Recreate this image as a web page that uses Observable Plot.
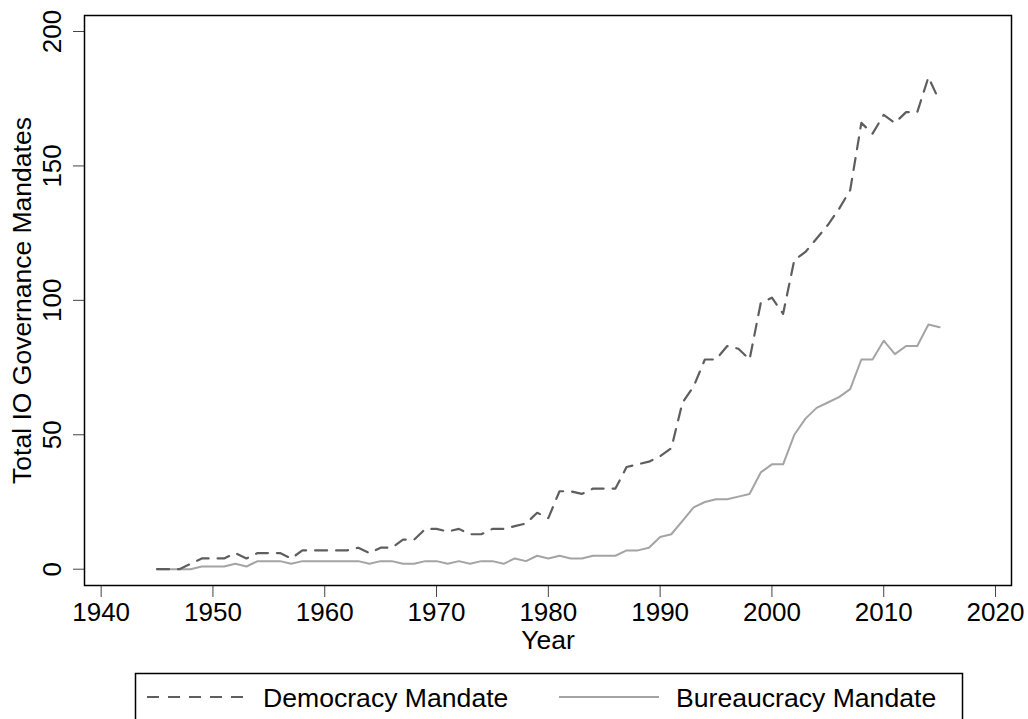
<!DOCTYPE html>
<html>
<head>
<meta charset="utf-8">
<script src="https://cdn.jsdelivr.net/npm/d3@7"></script>
<script src="https://cdn.jsdelivr.net/npm/@observablehq/plot@0.6"></script>
<style>
  html, body { margin: 0; padding: 0; background: #fff; overflow: hidden; }
  body { width: 1028px; height: 719px; position: relative; font-family: Arial, "Liberation Sans", sans-serif; }
  #chart { position: absolute; left: 0; top: 0; }
  #legend { position: absolute; left: 0; top: 0; }
</style>
</head>
<body>
<div id="chart"></div>
<div id="legend"></div>
<script>
const years = d3.range(1945, 2016);
const democracy = [
  0, 0, 0, 2, 4, 4, 4, 6, 4, 6,          // 1945-1954
  6, 6, 4, 7, 7, 7, 7, 7, 8, 6,          // 1955-1964
  8, 8, 11, 11, 15, 15, 14, 15, 13, 13,  // 1965-1974
  15, 15, 16, 17, 21, 19, 29, 29, 28, 30,// 1975-1984
  30, 30, 38, 39, 40, 42, 45, 62, 68, 78,// 1985-1994
  78, 83, 82, 78, 99, 101, 95, 115, 118, 123, // 1995-2004
  128, 134, 141, 166, 162, 169, 166, 170, 170, 183, // 2005-2014
  174                                      // 2015
];
const bureaucracy = [
  0, 0, 0, 0, 1, 1, 1, 2, 1, 3,          // 1945-1954
  3, 3, 2, 3, 3, 3, 3, 3, 3, 2,          // 1955-1964
  3, 3, 2, 2, 3, 3, 2, 3, 2, 3,          // 1965-1974
  3, 2, 4, 3, 5, 4, 5, 4, 4, 5,          // 1975-1984
  5, 5, 7, 7, 8, 12, 13, 18, 23, 25,     // 1985-1994
  26, 26, 27, 28, 36, 39, 39, 50, 56, 60,// 1995-2004
  62, 64, 67, 78, 78, 85, 80, 83, 83, 91,// 2005-2014
  90                                     // 2015
];
const seriesNames = ["Democracy Mandate", "Bureaucracy Mandate"];
const xTicks = [1940, 1950, 1960, 1970, 1980, 1990, 2000, 2010, 2020];
const yTicks = [0, 50, 100, 150, 200];
const xTitle = "Year";
const yTitle = "Total IO Governance Mandates";

const demColor = "#5e5e5e";
const burColor = "#a4a4a4";
const dash = "12,9";
const font = 'Arial, "Liberation Sans", sans-serif';

const demData = years.map((y, i) => ({year: y, value: democracy[i]}));
const burData = years.map((y, i) => ({year: y, value: bureaucracy[i]}));

const chart = Plot.plot({
  width: 1028,
  height: 660,
  marginLeft: 84,
  marginRight: 17,
  marginTop: 15,
  marginBottom: 75,
  style: {fontFamily: font, fontSize: "26px", color: "#000", background: "#fff"},
  x: {domain: [1938.51, 2021.43]},
  y: {domain: [-6.06, 205.95]},
  marks: [
    Plot.axisX({ticks: xTicks, tickSize: 12, tickPadding: 5, tickFormat: d => String(d), fontSize: 26, label: null, stroke: "#444"}),
    Plot.axisY({ticks: yTicks, tickSize: 11, tickFormat: () => "", label: null, stroke: "#444"}),
    Plot.text(yTicks, {y: d => d, text: d => String(d), frameAnchor: "left", dx: -32, rotate: -90, textAnchor: "middle", lineAnchor: "middle", fontSize: 26, fill: "#000"}),
    Plot.text([xTitle], {frameAnchor: "bottom", dy: 55, text: d => d, textAnchor: "middle", lineAnchor: "middle", fontSize: 26.5, fill: "#000"}),
    Plot.text([yTitle], {frameAnchor: "left", dx: -62, rotate: -90, text: d => d, textAnchor: "middle", lineAnchor: "middle", fontSize: 26.5, fill: "#000"}),
    Plot.line(burData, {x: "year", y: "value", stroke: burColor, strokeWidth: 2}),
    Plot.line(demData, {x: "year", y: "value", stroke: demColor, strokeWidth: 2.2, strokeDasharray: dash}),
    Plot.frame({stroke: "#000", strokeWidth: 1.5})
  ]
});
document.getElementById("chart").appendChild(chart);

// Legend below the plot SVG
const ns = "http://www.w3.org/2000/svg";
const leg = document.createElementNS(ns, "svg");
leg.setAttribute("width", 1028);
leg.setAttribute("height", 719);
leg.style.position = "absolute";
leg.style.left = "0px";
leg.style.top = "0px";
document.getElementById("legend").appendChild(leg);
function el(tag, attrs, parent) {
  const e = document.createElementNS(ns, tag);
  for (const k in attrs) e.setAttribute(k, attrs[k]);
  (parent || leg).appendChild(e);
  return e;
}
el("rect", {x: 135.5, y: 673.5, width: 827, height: 80, fill: "none", stroke: "#000", "stroke-width": 1.5});
const items = [
  {x1: 147, x2: 247, tx: 263, color: demColor, dash: dash},
  {x1: 559, x2: 659, tx: 676, color: burColor, dash: null}
];
items.forEach((it, i) => {
  const a = {x1: it.x1, x2: it.x2, y1: 697, y2: 697, stroke: it.color, "stroke-width": 2};
  if (it.dash) a["stroke-dasharray"] = it.dash;
  el("line", a);
  const t = el("text", {x: it.tx, y: 706.5, "font-family": font, "font-size": 26.6, fill: "#000"});
  t.textContent = seriesNames[i];
});
</script>
</body>
</html>
